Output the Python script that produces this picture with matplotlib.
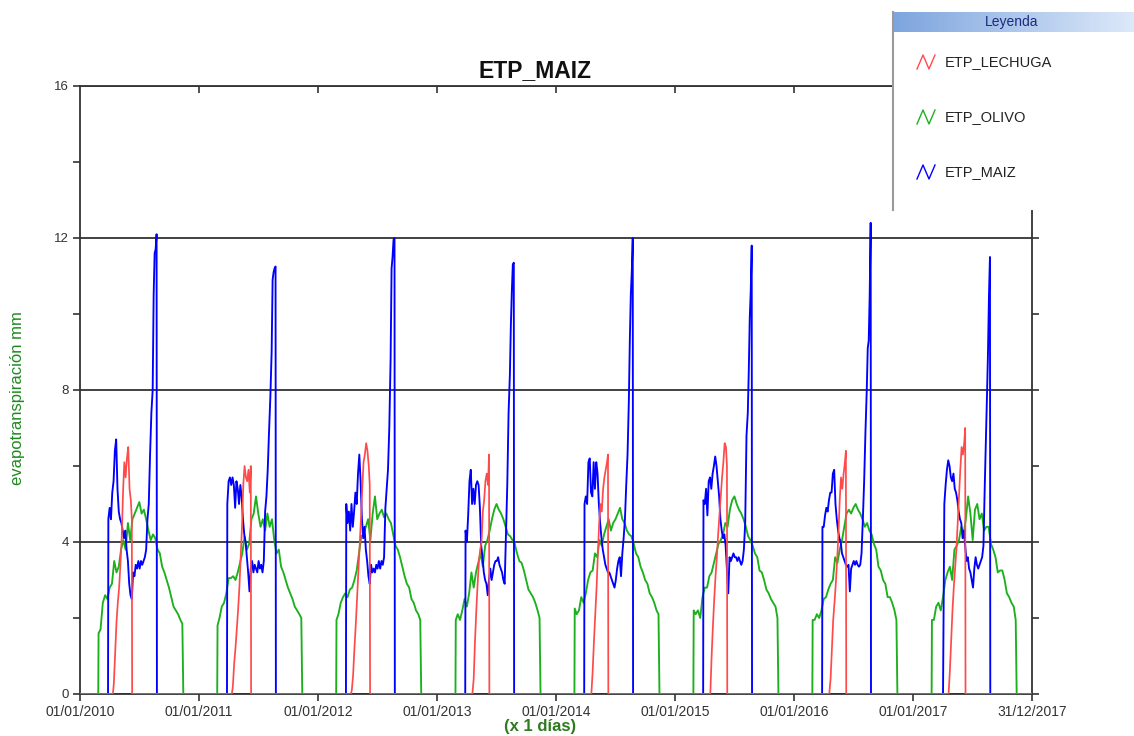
import numpy as np
import matplotlib
matplotlib.use("Agg")
import matplotlib.pyplot as plt
import matplotlib.dates as mdates

plt.rcParams['font.family'] = ['Liberation Sans', 'DejaVu Sans']

years = [2010, 2011, 2012, 2013, 2014, 2015, 2016, 2017]

# day of year (0 = 1 January) at which each series was read
olivo_doy = [56, 57, 63, 70, 77, 84, 91, 98, 105, 112, 119, 126, 133, 140, 147, 154,
             161, 168, 175, 182, 189, 196, 203, 210, 217, 224, 231, 238, 245, 252,
             259, 266, 273, 280, 287, 294, 301, 308, 314, 317]
maiz_doy = [86, 87, 91, 95, 99, 103, 107, 111, 115, 119, 123, 127, 131, 135, 139, 143,
            147, 151, 155, 159, 163, 167, 171, 175, 179, 183, 187, 191, 195, 199, 203,
            207, 211, 215, 219, 223, 226, 229, 232, 235, 236]
lechuga_doy = [101, 104, 108, 112, 116, 120, 124, 128, 132, 136, 140, 144, 148, 152,
               156, 159, 160]

# ETP_OLIVO (mm)
olivo = {
    2010: [0, 1.6, 1.7, 2.4, 2.6, 2.5, 2.8, 2.9, 3.5, 3.2, 3.35, 3.8, 4.05, 3.8, 4.5, 4.05,
           4.6, 4.75, 4.9, 5.05, 4.75, 4.85, 4.6, 4.3, 4.05, 4.2, 4.1, 3.8, 3.7, 3.35,
           3.2, 3.0, 2.8, 2.55, 2.3, 2.2, 2.1, 1.95, 1.85, 0],
    2011: [0, 1.8, 2.0, 2.3, 2.4, 2.65, 3.05, 3.05, 3.1, 3.0, 3.2, 3.45, 3.7, 4.15, 3.8, 3.95,
           4.6, 4.75, 5.2, 4.75, 4.4, 4.6, 4.3, 4.75, 4.4, 4.6, 4.05, 3.7, 3.8, 3.35,
           3.2, 3.0, 2.8, 2.65, 2.5, 2.3, 2.2, 2.1, 2.0, 0],
    2012: [0, 1.95, 2.1, 2.4, 2.55, 2.65, 2.55, 2.75, 2.8, 3.0, 3.25, 3.7, 4.15, 4.2, 4.4, 4.6,
           4.05, 4.75, 5.2, 4.6, 4.75, 4.85, 4.65, 4.75, 4.6, 4.5, 4.2, 3.9, 3.8, 3.6,
           3.35, 3.1, 2.9, 2.8, 2.5, 2.4, 2.2, 2.1, 1.95, 0],
    2013: [0, 1.95, 2.1, 1.95, 2.2, 2.5, 2.3, 2.65, 3.2, 2.8, 3.2, 3.45, 3.7, 3.35, 3.9, 4.05,
           4.3, 4.6, 4.85, 5.0, 4.85, 4.75, 4.6, 4.4, 4.2, 4.15, 4.05, 3.95, 3.7, 3.5,
           3.45, 3.25, 3.0, 2.75, 2.65, 2.55, 2.4, 2.2, 2.0, 0],
    2014: [0, 2.25, 2.1, 2.2, 2.55, 2.4, 2.65, 3.0, 3.2, 3.25, 3.7, 3.6, 4.05, 3.9, 4.2, 4.4,
           4.6, 4.3, 4.5, 4.6, 4.75, 4.9, 4.6, 4.5, 4.3, 4.2, 4.15, 3.95, 3.7, 3.6,
           3.35, 3.2, 3.0, 2.9, 2.65, 2.55, 2.4, 2.2, 2.1, 0],
    2015: [0, 2.2, 2.1, 2.2, 2.0, 2.55, 2.8, 2.8, 3.1, 3.2, 3.45, 3.7, 3.95, 4.05, 4.2, 4.5,
           4.4, 4.85, 5.1, 5.2, 5.0, 4.85, 4.75, 4.6, 4.4, 4.15, 4.05, 3.9, 3.7, 3.6,
           3.25, 3.2, 3.0, 2.75, 2.65, 2.5, 2.4, 2.3, 2.0, 0],
    2016: [0, 1.95, 1.95, 2.1, 2.0, 2.2, 2.5, 2.55, 2.75, 2.9, 3.0, 3.6, 3.45, 3.8, 4.05, 4.4,
           4.75, 4.85, 4.75, 4.9, 5.0, 4.85, 4.75, 4.6, 4.4, 4.5, 4.3, 4.2, 3.95, 3.8,
           3.35, 3.25, 3.0, 2.9, 2.55, 2.55, 2.4, 2.2, 1.95, 0],
    2017: [0, 1.95, 1.95, 2.3, 2.4, 2.2, 2.55, 3.0, 3.2, 3.35, 3.0, 3.8, 3.9, 4.05, 4.4, 4.2,
           4.6, 5.2, 4.75, 4.05, 4.85, 5.0, 4.6, 4.75, 4.3, 4.4, 4.4, 3.95, 3.8, 3.6,
           3.2, 3.25, 3.25, 3.0, 2.65, 2.55, 2.4, 2.3, 1.95, 0],
}

# ETP_MAIZ (mm)
maiz = {
    2010: [0, 4.6, 4.9, 4.6, 5.3, 5.6, 6.4, 6.7, 5.4, 4.8, 4.6, 4.5, 4.3, 4.1, 4.3, 3.8,
           3.5, 2.9, 2.6, 2.5, 3.2, 3.1, 3.4, 3.3, 3.5, 3.3, 3.5, 3.4, 3.5, 3.6,
           3.8, 4.6, 5.0, 6.3, 7.4, 8.0, 10.5, 11.6, 11.7, 12.1, 0],
    2011: [0, 5.0, 5.6, 5.7, 5.5, 5.7, 5.5, 4.9, 5.6, 5.4, 5.0, 5.5, 5.2, 4.6, 4.2, 4.0,
           3.6, 3.2, 2.7, 3.3, 3.5, 3.2, 3.4, 3.3, 3.2, 3.5, 3.3, 3.4, 3.2, 3.5,
           4.8, 5.2, 5.9, 6.9, 7.8, 9.0, 10.9, 11.1, 11.2, 11.25, 0],
    2012: [0, 5.0, 4.5, 4.8, 4.3, 5.0, 4.4, 4.8, 5.3, 5.0, 5.8, 6.3, 5.6, 4.6, 4.1, 4.4,
           3.8, 3.5, 3.1, 2.9, 3.4, 3.2, 3.3, 3.2, 3.4, 3.3, 3.5, 3.3, 3.5, 3.4,
           3.6, 4.9, 5.4, 5.9, 7.0, 8.8, 11.2, 11.5, 11.95, 12.0, 0],
    2013: [0, 4.3, 4.0, 4.7, 5.6, 5.9, 5.0, 5.4, 5.0, 5.5, 5.6, 5.5, 4.9, 3.9, 3.6, 3.2,
           3.0, 2.9, 2.6, 3.0, 3.3, 3.0, 3.2, 3.4, 3.5, 3.5, 3.6, 3.4, 3.3, 3.2,
           3.0, 2.9, 4.2, 5.5, 7.4, 8.4, 9.7, 10.6, 11.3, 11.35, 0],
    2014: [0, 5.0, 5.2, 5.0, 6.1, 6.2, 5.3, 5.2, 6.1, 5.4, 6.1, 5.8, 5.0, 4.5, 4.1, 3.8,
           3.6, 3.4, 3.3, 3.2, 3.2, 3.1, 3.0, 2.9, 2.8, 3.0, 3.3, 3.5, 3.6, 3.1,
           3.7, 4.1, 4.6, 5.5, 6.3, 7.7, 9.3, 10.5, 11.1, 12.0, 0],
    2015: [0, 5.1, 5.0, 5.4, 4.7, 5.6, 5.7, 5.4, 5.8, 6.0, 6.25, 6.0, 5.6, 5.2, 4.6, 4.3,
           4.1, 4.2, 3.9, 3.3, 2.65, 3.6, 3.5, 3.6, 3.7, 3.6, 3.6, 3.5, 3.6, 3.5,
           3.4, 3.5, 3.8, 4.5, 6.8, 7.4, 8.5, 9.9, 10.6, 11.8, 0],
    2016: [0, 4.4, 4.4, 4.7, 4.9, 4.8, 5.1, 5.3, 5.3, 5.8, 5.9, 5.0, 4.6, 4.3, 4.1, 4.0,
           3.7, 3.6, 3.5, 3.4, 3.35, 3.4, 2.7, 3.3, 3.4, 3.5, 3.4, 3.5, 3.4, 3.35,
           3.4, 3.7, 4.6, 5.6, 6.9, 8.0, 9.1, 9.3, 10.5, 12.4, 0],
    2017: [0, 0, 0, 5.0, 5.5, 5.9, 6.15, 6.0, 5.7, 5.6, 5.8, 5.4, 5.3, 5.1, 4.8, 4.6,
           4.5, 4.1, 4.3, 3.9, 3.5, 3.6, 3.3, 3.2, 3.0, 2.8, 3.3, 3.6, 3.4, 3.3,
           3.4, 3.5, 3.6, 3.9, 5.45, 6.8, 7.9, 9.0, 10.5, 11.5, 0],
}

# ETP_LECHUGA (mm)
lechuga = {
    2010: [0, 0.3, 1.1, 1.9, 2.4, 2.8, 3.4, 4.1, 5.3, 6.1, 5.7, 6.2, 6.5, 5.4, 5.1, 4.6, 0],
    2011: [0, 0.2, 0.8, 1.2, 1.7, 2.2, 2.8, 3.6, 4.4, 5.5, 6.0, 5.7, 5.6, 5.9, 5.3, 6.0, 0],
    2012: [0, 0.1, 0.5, 1.2, 1.8, 2.5, 3.2, 3.9, 4.6, 5.4, 6.1, 6.3, 6.6, 6.4, 6.0, 5.5, 0],
    2013: [0, 0, 0, 0.4, 1.4, 2.2, 2.9, 3.5, 3.8, 4.0, 4.8, 5.1, 5.6, 5.8, 5.5, 6.3, 0],
    2014: [0, 0, 0, 0.6, 1.4, 2.1, 2.8, 3.7, 4.5, 5.0, 4.8, 5.4, 5.7, 5.9, 6.1, 6.3, 0],
    2015: [0, 0, 0, 1.0, 1.8, 2.5, 3.1, 3.6, 4.2, 4.7, 5.2, 5.7, 6.1, 6.6, 6.5, 6.0, 0],
    2016: [0, 0, 0, 0.4, 1.2, 1.95, 2.4, 2.9, 3.5, 4.2, 5.1, 5.7, 5.4, 5.8, 6.1, 6.4, 0],
    2017: [0, 0, 0, 0.6, 1.4, 2.2, 2.8, 3.3, 3.8, 4.5, 5.2, 5.9, 6.5, 6.3, 6.6, 7.0, 0],
}

start = np.datetime64('2010-01-01')
end = np.datetime64('2017-12-31')


def build_series(doy, values):
    xs = [start]
    ys = [0.0]
    for yr in years:
        base = np.datetime64(f'{yr}-01-01')
        for d, v in zip(doy, values[yr]):
            xs.append(base + np.timedelta64(d, 'D'))
            ys.append(v)
    xs.append(end)
    ys.append(0.0)
    return np.array(xs), np.array(ys)


c_lechuga = '#ff4a4a'
c_olivo = '#1cb01c'
c_maiz = '#0000ff'
dark = '#333333'

fig = plt.figure(figsize=(11.34, 7.36), dpi=100)
ax = fig.add_axes([80 / 1134, 1 - 694 / 736, 952 / 1134, 608 / 736])

x, y = build_series(olivo_doy, olivo)
ax.plot(x, y, color=c_olivo, lw=1.35, zorder=3)
x, y = build_series(maiz_doy, maiz)
ax.plot(x, y, color=c_maiz, lw=1.35, zorder=4)
x, y = build_series(lechuga_doy, lechuga)
ax.plot(x, y, color=c_lechuga, lw=1.25, zorder=5)

ax.set_xlim(start, end)
ax.set_ylim(0, 16)

xticks = [np.datetime64(f'{yr}-01-01') for yr in years] + [end]
ax.set_xticks(xticks)
ax.xaxis.set_major_formatter(mdates.DateFormatter('%d/%m/%Y'))
ax.set_yticks([0, 4, 8, 12, 16])
ax.set_yticks([2, 6, 10, 14], minor=True)

ax.tick_params(axis='x', direction='out', length=5, width=1.2, color=dark,
               labelsize=10, labelcolor=dark, pad=3)
ax.tick_params(axis='y', which='both', left=True, right=True, direction='out',
               length=5, width=1.2, color=dark, labelsize=9.5, labelcolor=dark, pad=3)

top = ax.secondary_xaxis('top')
top.set_xticks(xticks[1:-1])
top.tick_params(direction='in', length=5, width=1.2, color=dark, labeltop=False)
top.spines['top'].set_visible(False)

ax.grid(axis='y', which='major', color=dark, lw=1.3)
for s in ax.spines.values():
    s.set_color(dark)
    s.set_linewidth(1.3)

fig.text(535 / 1134, 1 - 71 / 736, 'ETP_MAIZ', ha='center', va='center',
         fontsize=16.5, fontweight='bold', color='#111111')
fig.text(18 / 1134, 1 - 398 / 736, 'evapotranspiración mm', rotation=90,
         ha='center', va='center', fontsize=12, color='#1f8a1f')
fig.text(540 / 1134, 1 - 727 / 736, '(x 1 días)', ha='center', va='center',
         fontsize=12, fontweight='bold', color='#2e7a1e')

# legend panel
lg = fig.add_axes([893 / 1134, 1 - 210 / 736, 241 / 1134, 198 / 736], zorder=10)
lg.set_xlim(893, 1134)
lg.set_ylim(210, 12)
lg.set_facecolor('white')
for side, s in lg.spines.items():
    s.set_visible(side == 'left')
lg.spines['left'].set_color('#9a9a9a')
lg.spines['left'].set_linewidth(1.5)
lg.set_xticks([])
lg.set_yticks([])
grad = np.linspace(0, 1, 256).reshape(1, -1)
cmap = matplotlib.colors.LinearSegmentedColormap.from_list('bar', ['#7da5de', '#dde9f9'])
lg.imshow(grad, cmap=cmap, aspect='auto', extent=[894, 1134, 32, 12], zorder=1)
lg.text(1012, 22, 'Leyenda', ha='center', va='center', fontsize=10, color='#1c2a80')

legend_names = ['ETP_LECHUGA', 'ETP_OLIVO', 'ETP_MAIZ']
legend_colors = [c_lechuga, c_olivo, c_maiz]
for i, (name, col) in enumerate(zip(legend_names, legend_colors)):
    yc = 62 + 55 * i
    lg.plot([917, 923, 929, 935], [yc + 7, yc - 7, yc + 7, yc - 7], color=col, lw=1.0)
    lg.text(945, yc, name, ha='left', va='center', fontsize=10.5, color='#222222')

fig.savefig('out.png', dpi=100)
